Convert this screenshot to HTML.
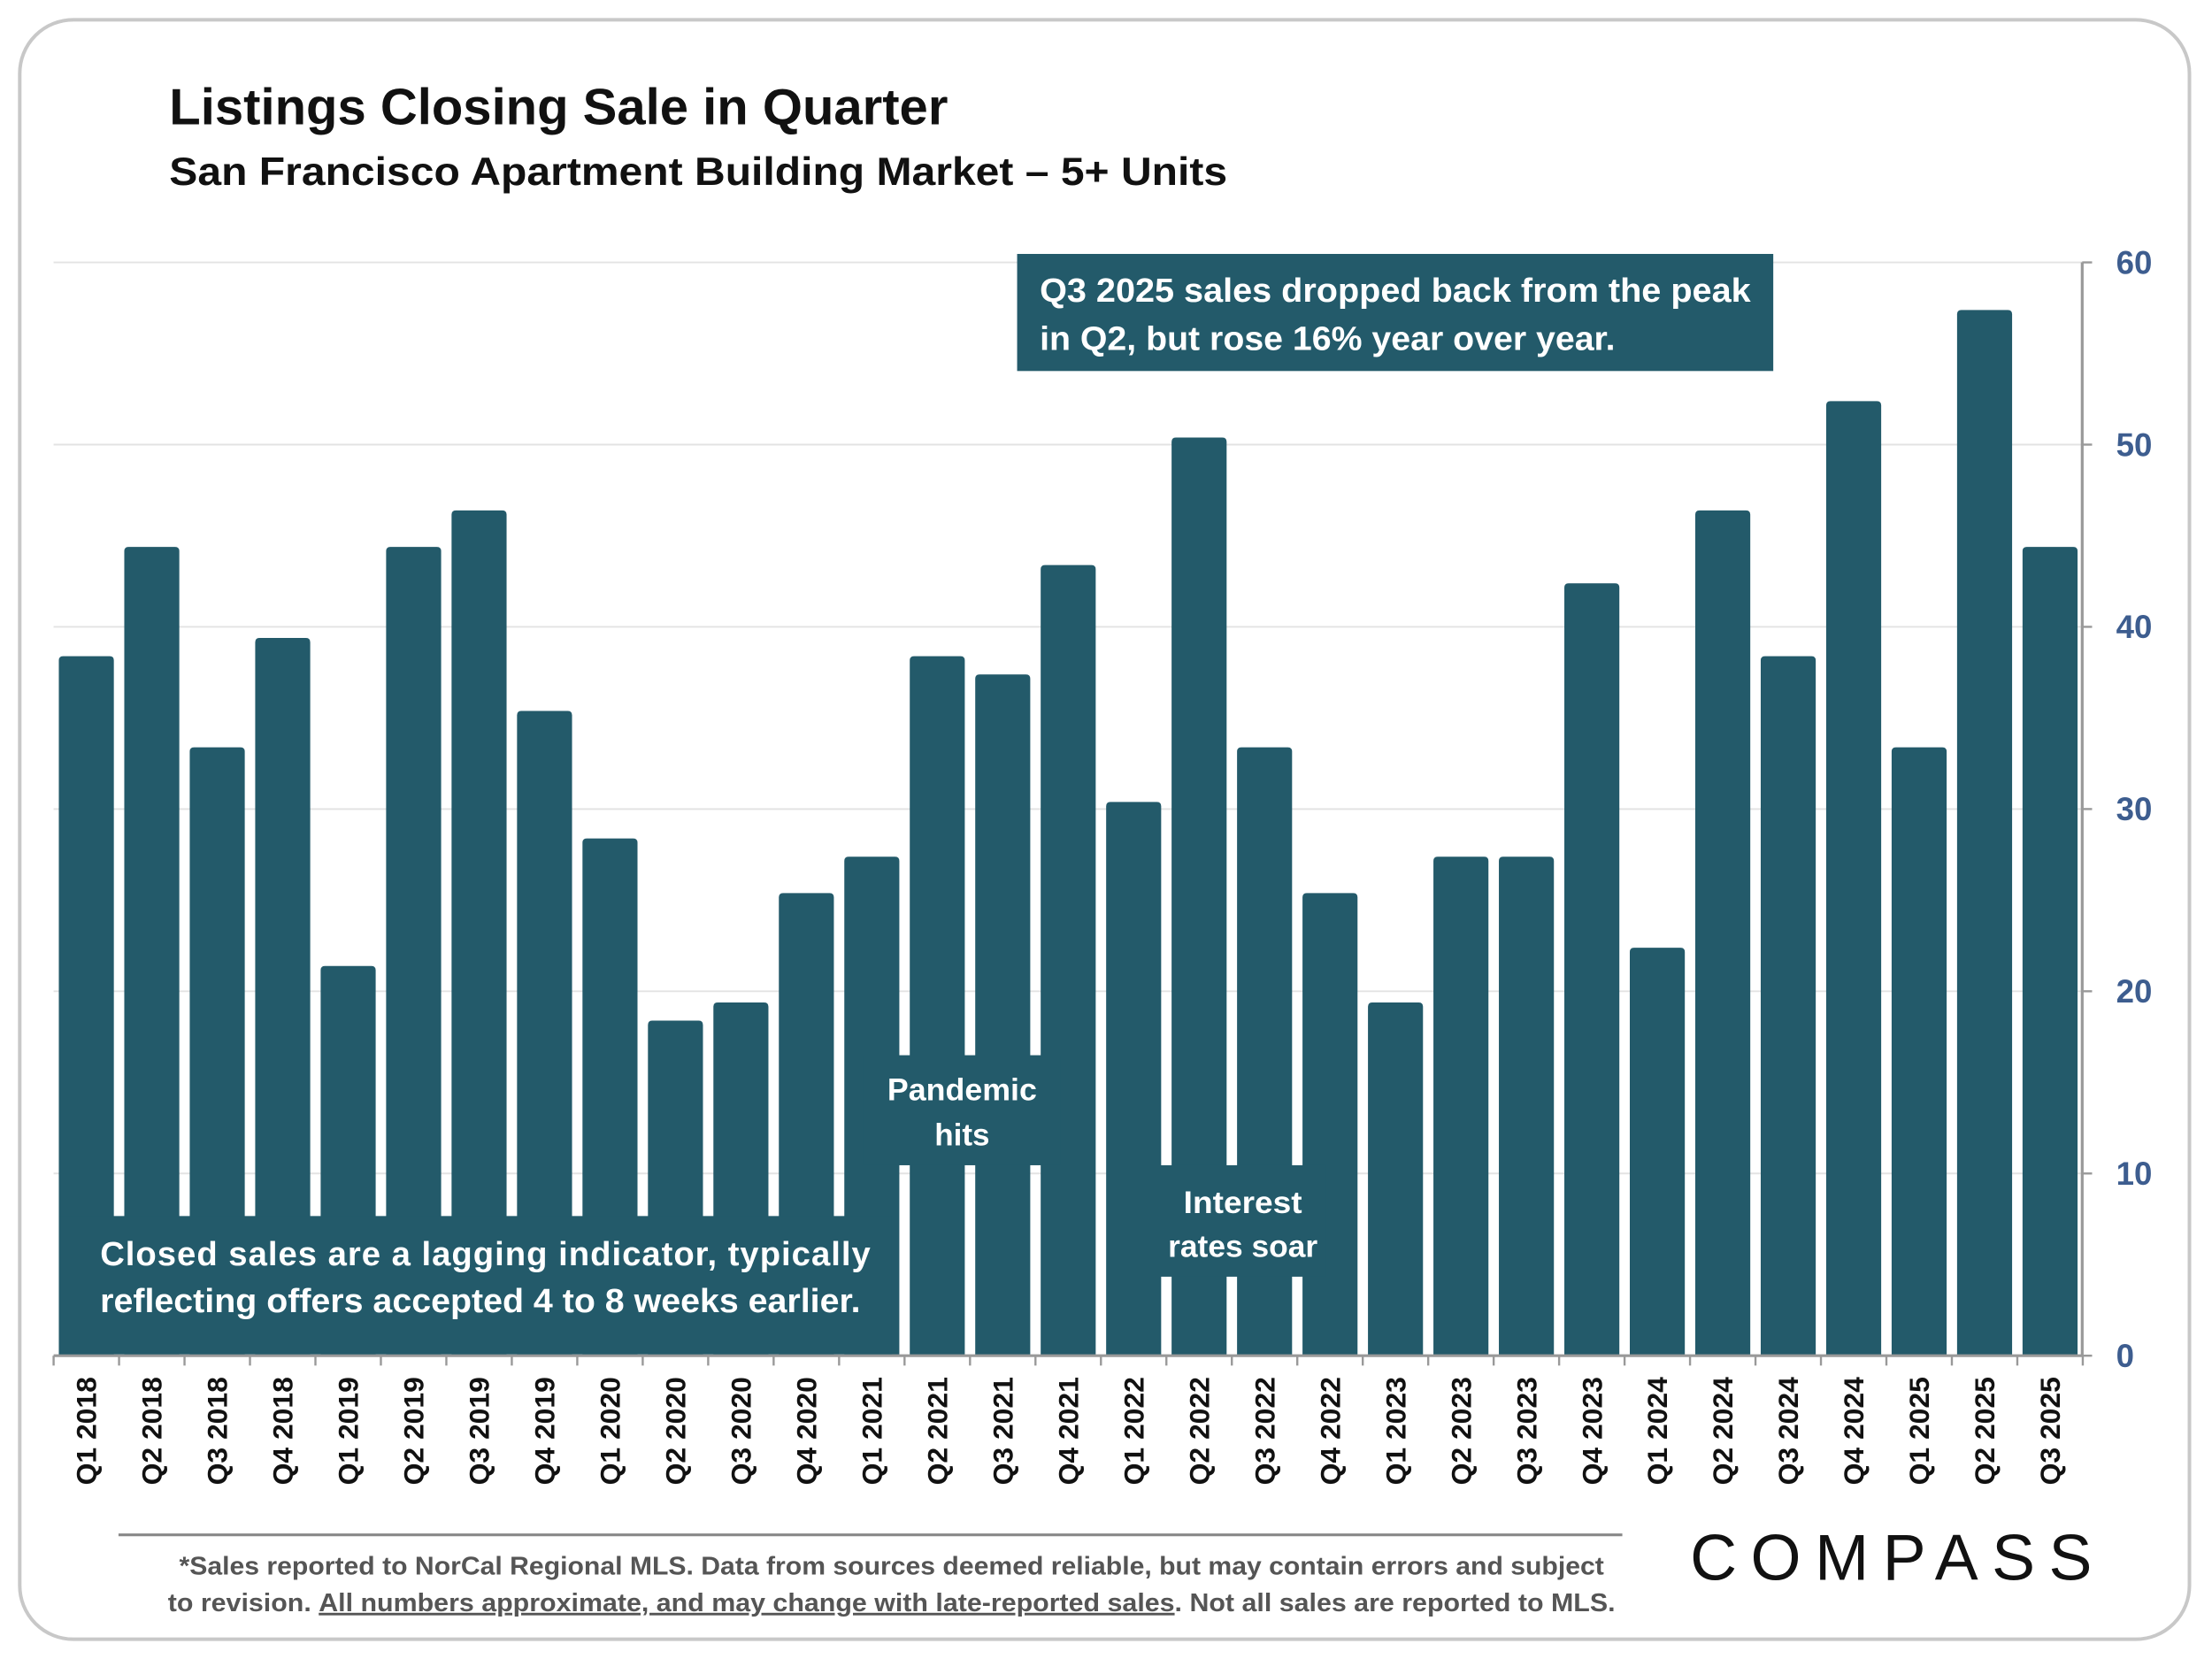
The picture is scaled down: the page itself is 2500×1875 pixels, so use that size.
<!DOCTYPE html>
<html><head><meta charset="utf-8"><style>
html,body{margin:0;padding:0;background:#fff;}
svg{display:block;}
text{font-family:"Liberation Sans",sans-serif;}
</style></head><body>
<svg id="chart" width="2500" height="1875" viewBox="0 0 1568 1176" xmlns="http://www.w3.org/2000/svg">
<rect x="14" y="14" width="1538" height="1148" rx="38" fill="#fff" stroke="#c8c8c8" stroke-width="2.5"/>
<text x="120" y="88" font-size="36" font-weight="bold" fill="#111" textLength="552" lengthAdjust="spacingAndGlyphs">Listings Closing Sale in Quarter</text>
<text x="120" y="131" font-size="28" font-weight="bold" fill="#111" textLength="750" lengthAdjust="spacingAndGlyphs">San Francisco Apartment Building Market – 5+ Units</text>
<g id="grid"></g>
<g id="bars"></g>
<g id="axes"></g>
<g>
<rect x="721" y="180" width="536" height="83" fill="#235a6a"/>
<text x="737" y="214" font-size="24" font-weight="bold" fill="#fff" textLength="504" lengthAdjust="spacingAndGlyphs">Q3 2025 sales dropped back from the peak</text>
<text x="737" y="248" font-size="24" font-weight="bold" fill="#fff" textLength="408" lengthAdjust="spacingAndGlyphs">in Q2, but rose 16% year over year.</text>
</g>
<g>
<rect x="612" y="748" width="140" height="78" fill="#235a6a"/>
<text x="682" y="780" font-size="22" font-weight="bold" fill="#fff" text-anchor="middle" textLength="106" lengthAdjust="spacingAndGlyphs">Pandemic</text>
<text x="682" y="812" font-size="22" font-weight="bold" fill="#fff" text-anchor="middle">hits</text>
</g>
<g>
<rect x="822" y="826" width="118" height="79" fill="#235a6a"/>
<text x="881" y="860" font-size="22" font-weight="bold" fill="#fff" text-anchor="middle" textLength="84" lengthAdjust="spacingAndGlyphs">Interest</text>
<text x="881" y="891" font-size="22" font-weight="bold" fill="#fff" text-anchor="middle" textLength="106" lengthAdjust="spacingAndGlyphs">rates soar</text>
</g>
<g>
<rect x="42" y="862" width="590" height="98" fill="#235a6a"/>
<text x="71" y="897" font-size="24" font-weight="bold" fill="#fff" textLength="546" lengthAdjust="spacing">Closed sales are a lagging indicator, typically</text>
<text x="71" y="930" font-size="24" font-weight="bold" fill="#fff" textLength="539" lengthAdjust="spacingAndGlyphs">reflecting offers accepted 4 to 8 weeks earlier.</text>
</g>
<line x1="84" y1="1088" x2="1150" y2="1088" stroke="#888" stroke-width="2"/>
<text x="632" y="1116" font-size="18" font-weight="bold" fill="#555" text-anchor="middle" textLength="1010" lengthAdjust="spacingAndGlyphs">*Sales reported to NorCal Regional MLS. Data from sources deemed reliable, but may contain errors and subject</text>
<text x="632" y="1142" font-size="18" font-weight="bold" fill="#555" text-anchor="middle" textLength="1026" lengthAdjust="spacingAndGlyphs">to revision. <tspan text-decoration="underline">All numbers approximate, and may change with late-reported sales</tspan>. Not all sales are reported to MLS.</text>
<text x="1198" y="1120" font-size="46" fill="#111" textLength="285" lengthAdjust="spacing">COMPASS</text>
</svg>
<script>
const categories = ["Q1 2018","Q2 2018","Q3 2018","Q4 2018","Q1 2019","Q2 2019","Q3 2019","Q4 2019","Q1 2020","Q2 2020","Q3 2020","Q4 2020","Q1 2021","Q2 2021","Q3 2021","Q4 2021","Q1 2022","Q2 2022","Q3 2022","Q4 2022","Q1 2023","Q2 2023","Q3 2023","Q4 2023","Q1 2024","Q2 2024","Q3 2024","Q4 2024","Q1 2025","Q2 2025","Q3 2025"];
const sales = [38,44,33,39,21,44,46,35,28,18,19,25,27,38,37,43,30,50,33,25,19,27,27,42,22,46,38,52,33,57,44];
const yTicks = [0,10,20,30,40,50,60];

const NS = "http://www.w3.org/2000/svg";
const X0 = 38, STEP = 46.4, BW = 39, Y0 = 961, YTOP = 186, YMAX = 60, AXR = 1476, CAP = 5;
function y(v){ return Y0 - v * (Y0 - YTOP) / YMAX; }
function xc(i){ return X0 + STEP * (i + 0.5); }
function mk(tag, attrs, parent){ const e = document.createElementNS(NS, tag); for (const k in attrs) e.setAttribute(k, attrs[k]); parent.appendChild(e); return e; }

const grid = document.getElementById('grid'), bars = document.getElementById('bars'), axes = document.getElementById('axes');
yTicks.forEach(t => {
  if (t > 0) {
    const g = mk('line', {x1: X0, x2: AXR, y1: y(t), y2: y(t), stroke: '#e3e3e3', 'stroke-width': 1.2}, grid);
    
    
  }
  const tk = mk('line', {x1: AXR, x2: AXR + 7, y1: y(t), y2: y(t), stroke: '#999', 'stroke-width': 1.5}, axes);
  
  
  const lb = mk('text', {x: 1500, y: y(t) + 8, 'font-size': 23, 'font-weight': 'bold', fill: '#3d5d8f'}, axes);
  lb.textContent = t;
  
  
});
sales.forEach((v, i) => {
  const top = y(v) - CAP;
  const b = mk('path', {d: `M${xc(i)-BW/2},${Y0} L${xc(i)-BW/2},${top+3} Q${xc(i)-BW/2},${top} ${xc(i)-BW/2+3},${top} L${xc(i)+BW/2-3},${top} Q${xc(i)+BW/2},${top} ${xc(i)+BW/2},${top+3} L${xc(i)+BW/2},${Y0} Z`, fill: '#235a6a'}, bars);
  
  
  const lb = mk('text', {x: 0, y: 0, 'font-size': 20, 'font-weight': 'bold', fill: '#111', 'text-anchor': 'end', transform: `translate(${xc(i)+7},${Y0+15}) rotate(-90)`}, axes);
  lb.textContent = categories[i];
  
  
});
for (let i = 0; i <= categories.length; i++) {
  const tk = mk('line', {x1: X0 + STEP * i, x2: X0 + STEP * i, y1: Y0, y2: Y0 + 7, stroke: '#999', 'stroke-width': 1.5}, axes);
  
  
}
const xa = mk('line', {x1: X0, x2: AXR, y1: Y0, y2: Y0, stroke: '#999', 'stroke-width': 2}, axes);


const ya = mk('line', {x1: AXR, x2: AXR, y1: YTOP, y2: Y0, stroke: '#999', 'stroke-width': 2}, axes);


</script>
</body></html>
